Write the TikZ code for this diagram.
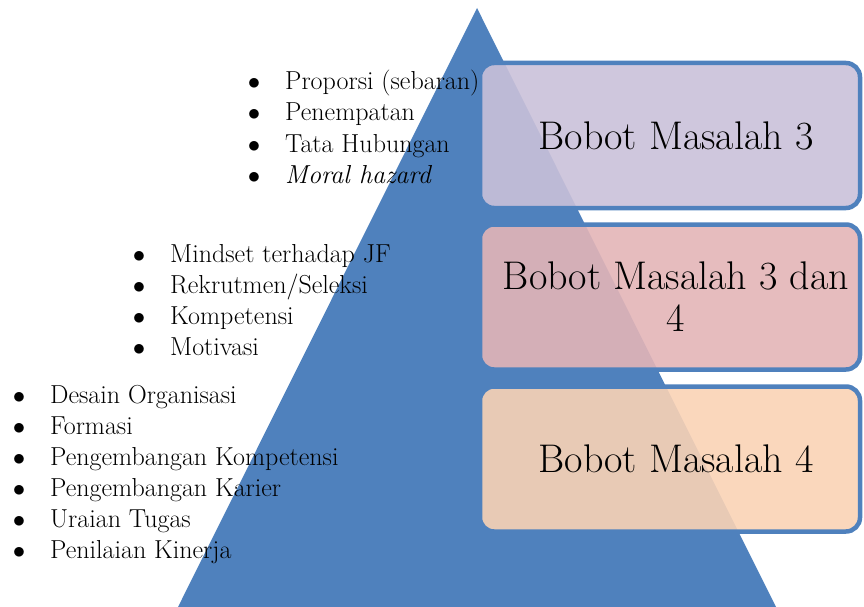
\documentclass[tikz,border=0pt]{standalone}
\usepackage{fontspec}
\definecolor{pyrblue}{RGB}{79,129,189}
\definecolor{boxA}{RGB}{202,193,217}
\definecolor{boxB}{RGB}{227,181,183}
\definecolor{boxC}{RGB}{249,211,181}
\newcommand{\bul}{\makebox[0pt][r]{$\bullet$\hspace{25pt}}}
\newcommand{\rsh}{\hspace*{12pt}}
\begin{document}
\begin{tikzpicture}[
        x=1pt, y=-1pt, % one unit = one pixel of the sketch
        tri/.style = {fill=pyrblue},
        box/.style = {rectangle, rounded corners=14pt, draw=pyrblue, line width=4.5pt,
                fill opacity=0.9, text opacity=1, minimum width=380pt, minimum height=145pt,
                align=center, font=\fontsize{40}{42}\selectfont}, % boxes on the right
        item/.style = {anchor=base west, inner sep=0pt, font=\fontsize{26}{31}\selectfont}, % list lines
    ]
    \useasboundingbox (0,0) rectangle (864,607);

    % pyramid
    \coordinate (apex) at (477,8);
    \coordinate (bl) at (178,607);
    \coordinate (br) at (776,607);
    \fill[tri] (apex) -- (br) -- (bl) -- cycle;

    % lists
    \foreach \txt [count=\i] in {{Proporsi (sebaran)}, Penempatan, Tata Hubungan, {\textit{Moral hazard}}}
        \node[item] (top\i) at (285, 59+31*\i) {\bul\txt};
    \foreach \txt [count=\i] in {Mindset terhadap JF, {Rekrutmen/Seleksi}, Kompetensi, Motivasi}
        \node[item] (mid\i) at (170, 231+31*\i) {\bul\txt};
    \foreach \txt [count=\i] in {Desain Organisasi, Formasi, Pengembangan Kompetensi,
            Pengembangan Karier, Uraian Tugas, Penilaian Kinerja}
        \node[item] (low\i) at (50, 372+31*\i) {\bul\txt};

    % boxes
    \node[box, fill=boxA] (bobot3) at (670,135.5) {\rsh Bobot Masalah 3};
    \node[box, fill=boxB] (bobot34) at (670,297) {\rsh Bobot Masalah 3 dan\\\rsh 4};
    \node[box, fill=boxC] (bobot4) at (670,459) {\rsh Bobot Masalah 4};

\end{tikzpicture}
\end{document}
